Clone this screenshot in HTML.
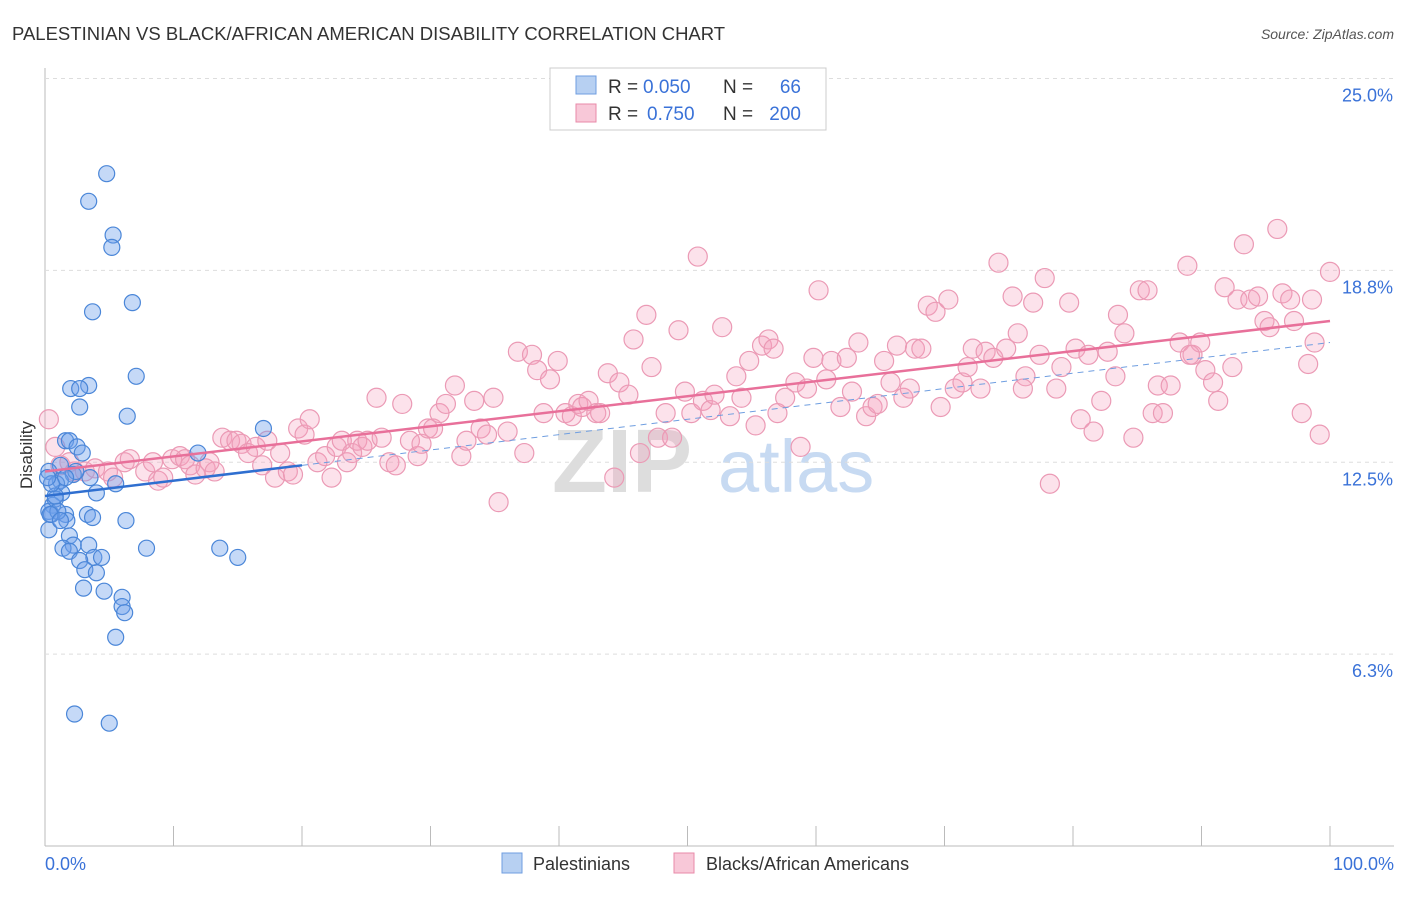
<!DOCTYPE html>
<html><head><meta charset="utf-8"><style>
body{margin:0;background:#fff;font-family:"Liberation Sans",sans-serif}
svg text{font-family:"Liberation Sans",sans-serif}
</style></head><body>
<svg id="c" width="1406" height="892">
<text x="12" y="40" font-size="18.5" fill="#333">PALESTINIAN VS BLACK/AFRICAN AMERICAN DISABILITY CORRELATION CHART</text>
<text x="1394" y="39" font-size="14" fill="#555" font-style="italic" text-anchor="end">Source: ZipAtlas.com</text>
<text x="32" y="455" font-size="17" fill="#333" text-anchor="middle" transform="rotate(-90 32 455)">Disability</text>
<g><text x="552" y="492" font-size="90" fill="#ddd" font-family="Liberation Serif" font-weight="bold">ZIP</text><text x="718" y="492" font-size="74" fill="#c7daf2">atlas</text></g>
<g id="grid"></g><g id="marks"></g>
<g>
<rect x="550" y="68" width="276" height="62" fill="#fff" stroke="#ccc"/>
<rect x="576" y="76" width="20" height="18" fill="#b7d0f2" stroke="#6f9ee0"/>
<rect x="576" y="104" width="20" height="18" fill="#f8c8d8" stroke="#e88aa8"/>
<text x="608" y="93" font-size="19" fill="#333">R =</text>
<text x="643" y="93" font-size="19" fill="#3a72d8">0.050</text>
<text x="723" y="93" font-size="19" fill="#333">N =</text>
<text x="801" y="93" font-size="19" fill="#3a72d8" text-anchor="end">66</text>
<text x="608" y="120" font-size="19" fill="#333">R =</text>
<text x="647" y="120" font-size="19" fill="#3a72d8">0.750</text>
<text x="723" y="120" font-size="19" fill="#333">N =</text>
<text x="801" y="120" font-size="19" fill="#3a72d8" text-anchor="end">200</text>
</g>
<g>
<rect x="502" y="853" width="20" height="20" fill="#b7d0f2" stroke="#6f9ee0"/>
<text x="533" y="870" font-size="18" fill="#333">Palestinians</text>
<rect x="674" y="853" width="20" height="20" fill="#f8c8d8" stroke="#e88aa8"/>
<text x="706" y="870" font-size="18" fill="#333">Blacks/African Americans</text>
</g>
</svg>
<script>
const yTicks=[6.25,12.5,18.75,25];
const yTickLabels=["6.3%","12.5%","18.8%","25.0%"];
const xTickValues=[0,10,20,30,40,50,60,70,80,90,100];
const blueX=[4.8,3.4,5.3,5.2,6.8,3.7,7.1,2.0,3.4,2.7,2.7,6.4,17.0,1.6,1.9,2.5,2.9,1.2,0.3,2.2,1.2,3.5,5.5,0.9,1.3,4.0,0.6,0.3,0.5,1.6,3.3,3.7,1.7,6.3,0.3,1.9,2.2,3.4,1.4,1.9,7.9,13.6,15.0,3.8,4.4,2.7,3.1,4.0,3.0,4.6,6.0,6.0,6.2,5.5,2.3,5.0,11.9,0.8,1.0,0.4,2.4,1.6,0.8,0.5,1.2,0.2];
const blueY=[21.9,21.0,19.9,19.5,17.7,17.4,15.3,14.9,15.0,14.9,14.3,14.0,13.6,13.2,13.2,13.0,12.8,12.4,12.2,12.1,11.9,12.0,11.8,11.8,11.5,11.5,11.1,10.9,10.8,10.8,10.8,10.7,10.6,10.6,10.3,10.1,9.8,9.8,9.7,9.6,9.7,9.7,9.4,9.4,9.4,9.3,9.0,8.9,8.4,8.3,8.1,7.8,7.6,6.8,4.3,4.0,12.8,11.3,10.9,10.8,12.2,12.0,11.4,11.8,10.6,12.0];
const pinkX=[0.3,0.8,1.2,1.9,2.3,3.1,3.9,4.9,5.3,6.2,6.6,7.8,8.4,8.8,9.2,9.9,10.5,10.9,11.3,11.7,12.5,12.8,13.2,13.8,14.4,14.9,15.3,15.8,16.4,16.9,17.3,17.9,18.3,18.9,19.3,19.7,20.2,20.6,21.2,21.8,22.3,22.7,23.1,23.5,23.9,24.3,24.7,25.1,25.8,26.2,26.8,27.3,27.8,28.4,29.0,29.3,29.8,30.2,30.7,31.2,31.9,32.4,32.8,33.4,33.9,34.4,34.9,35.3,36.0,36.8,37.3,37.9,38.3,38.8,39.3,39.9,40.5,41.0,41.5,41.8,42.3,42.9,43.2,43.8,44.3,44.7,45.4,45.8,46.3,46.8,47.2,47.7,48.3,48.8,49.3,49.8,50.3,50.8,51.2,51.8,52.1,52.7,53.3,53.8,54.2,54.8,55.3,55.8,56.3,56.7,57.0,57.6,58.4,58.8,59.3,59.8,60.2,60.8,61.2,61.9,62.4,62.8,63.3,63.9,64.4,64.8,65.3,65.8,66.3,66.8,67.3,67.7,68.2,68.7,69.3,69.7,70.3,70.8,71.4,71.8,72.2,72.8,73.2,73.8,74.2,74.8,75.3,75.7,76.3,76.9,77.4,77.8,78.2,78.7,79.1,79.7,80.2,80.6,81.2,81.6,82.2,82.7,83.3,83.5,84.0,84.7,85.2,85.8,86.2,86.6,87.0,87.6,88.3,88.9,89.3,89.9,90.3,90.9,91.3,91.8,92.4,92.8,93.3,93.8,94.4,94.9,95.3,95.9,96.3,96.9,97.2,97.8,98.3,98.8,99.2,100.0,98.6,89.1,76.1];
const pinkY=[13.9,13.0,12.4,12.5,12.2,12.2,12.3,12.2,12.0,12.5,12.6,12.2,12.5,11.9,12.0,12.6,12.7,12.6,12.4,12.1,12.3,12.5,12.2,13.3,13.2,13.2,13.1,12.8,13.0,12.4,13.2,12.0,12.8,12.2,12.1,13.6,13.4,13.9,12.5,12.7,12.0,13.0,13.2,12.5,12.8,13.2,13.0,13.2,14.6,13.3,12.5,12.4,14.4,13.2,12.7,13.1,13.6,13.6,14.1,14.4,15.0,12.7,13.2,14.5,13.6,13.4,14.6,11.2,13.5,16.1,12.8,16.0,15.5,14.1,15.2,15.8,14.1,14.0,14.4,14.3,14.5,14.1,14.1,15.4,12.0,15.1,14.7,16.5,12.8,17.3,15.6,13.3,14.1,13.3,16.8,14.8,14.1,19.2,14.5,14.2,14.7,16.9,14.0,15.3,14.6,15.8,13.7,16.3,16.5,16.2,14.1,14.6,15.1,13.0,14.9,15.9,18.1,15.2,15.8,14.3,15.9,14.8,16.4,14.0,14.3,14.4,15.8,15.1,16.3,14.6,14.9,16.2,16.2,17.6,17.4,14.3,17.8,14.9,15.1,15.6,16.2,14.9,16.1,15.9,19.0,16.2,17.9,16.7,15.3,17.7,16.0,18.5,11.8,14.9,15.6,17.7,16.2,13.9,16.0,13.5,14.5,16.1,15.3,17.3,16.7,13.3,18.1,18.1,14.1,15.0,14.1,15.0,16.4,18.9,16.0,16.4,15.5,15.1,14.5,18.2,15.6,17.8,19.6,17.8,17.9,17.1,16.9,20.1,18.0,17.8,17.1,14.1,15.7,16.4,13.4,18.7,17.8,16.0,14.9];
const blueTrend=[11.4,12.4];   // y at x=0, x=20
const blueDashEnd=[16.4];      // y at x=100
const pinkTrend=[12.2,17.1];   // y at x=0, x=100
const X0=45,X1=1330,YB=846,PXU=30.7;
const sx=v=>X0+(X1-X0)*v/100, sy=v=>YB-v*PXU;
const NS="http://www.w3.org/2000/svg";
function mk(t,a,p){const e=document.createElementNS(NS,t);for(const k in a)e.setAttribute(k,a[k]);p.appendChild(e);return e;}
const g=document.getElementById('grid'),m=document.getElementById('marks');
const ax=mk('line',{x1:45,y1:68,x2:45,y2:846,stroke:'#bbb'},g);


const bx=mk('line',{x1:45,y1:846,x2:1394,y2:846,stroke:'#bbb'},g);


yTicks.forEach((v,i)=>{
 const l=mk('line',{x1:45,x2:1394,y1:sy(v),y2:sy(v),stroke:'#ddd','stroke-dasharray':'4,4'},g);
 
 
 const t=mk('text',{x:1393,y:sy(v)+23,'font-size':18,fill:'#3a72d8','text-anchor':'end'},g);t.textContent=yTickLabels[i];
 
 
});
xTickValues.forEach(v=>{
 const l=mk('line',{x1:sx(v),x2:sx(v),y1:826,y2:846,stroke:'#bbb'},g);
 
 
});
const xl0=mk('text',{x:45,y:870,'font-size':18,fill:'#3a72d8'},g);xl0.textContent='0.0%';


const xl1=mk('text',{x:1394,y:870,'font-size':18,fill:'#3a72d8','text-anchor':'end'},g);xl1.textContent='100.0%';


pinkX.forEach((x,i)=>{
 const c=mk('circle',{cx:sx(x),cy:sy(pinkY[i]),r:9.5,fill:'rgba(244,160,188,0.3)',stroke:'#eb9ab5','stroke-width':1.2},m);
 
 
});
blueX.forEach((x,i)=>{
 const c=mk('circle',{cx:sx(x),cy:sy(blueY[i]),r:8,fill:'rgba(110,160,235,0.4)',stroke:'#4a86d8','stroke-width':1.2},m);
 
 
});
const bd=mk('line',{x1:sx(20),y1:sy(blueTrend[1]),x2:sx(100),y2:sy(blueDashEnd[0]),stroke:'#6f9ee0','stroke-dasharray':'6,5','stroke-width':1},m);


const pt=mk('line',{x1:sx(0),y1:sy(pinkTrend[0]),x2:sx(100),y2:sy(pinkTrend[1]),stroke:'#e8709a','stroke-width':2.5},m);


const bt=mk('line',{x1:sx(0),y1:sy(blueTrend[0]),x2:sx(20),y2:sy(blueTrend[1]),stroke:'#2f6fd0','stroke-width':2.5},m);


</script>
</body></html>
